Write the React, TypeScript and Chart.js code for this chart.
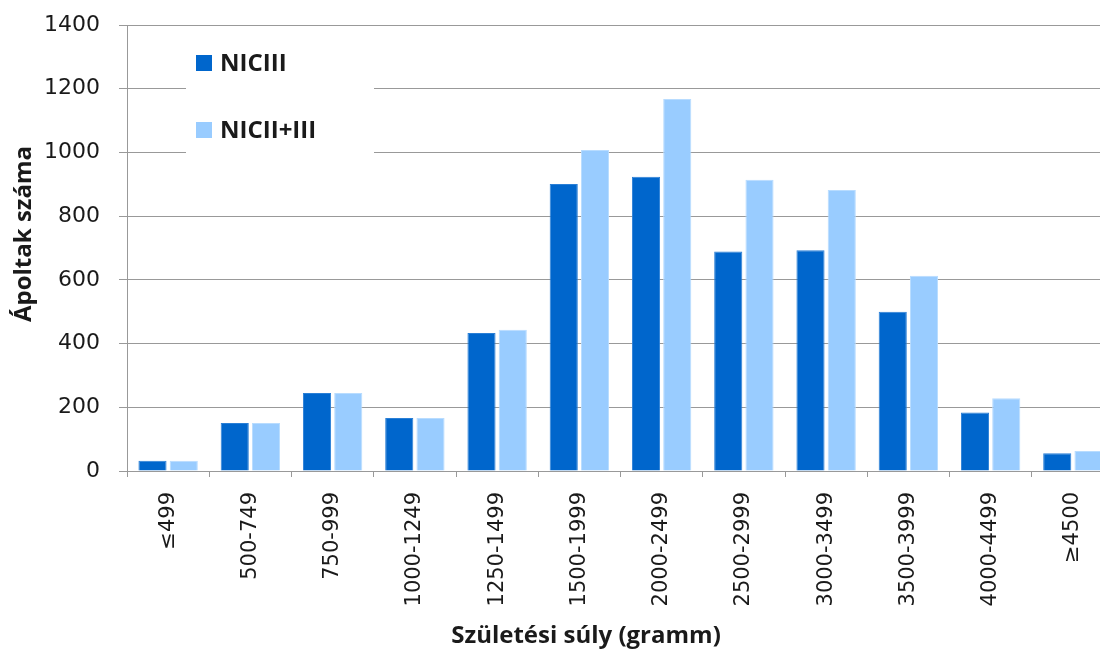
import React, { useEffect, useRef } from "react";
import { Chart, registerables } from "chart.js";

Chart.register(...registerables);

const categories = [
  "≤499", "500-749", "750-999", "1000-1249", "1250-1499", "1500-1999",
  "2000-2499", "2500-2999", "3000-3499", "3500-3999", "4000-4499", "≥4500",
];
const seriesNames = ["NICIII", "NICII+III"];
const nicIII = [32, 151, 245, 166, 433, 901, 924, 689, 693, 500, 184, 56];
const nicIIplusIII = [32, 151, 245, 166, 443, 1008, 1168, 914, 882, 613, 228, 63];
const yTitle = "Ápoltak száma";
const xTitle = "Születési súly (gramm)";
const yMax = 1400;
const yStep = 200;

const colors = ["#0066CC", "#99CCFF"];
const borders = ["#2a7fd6", "#b8dcff"];
const textColor = "#1a1a1a";

const insideLegend = {
  id: "insideLegend",
  afterDraw(chart: any) {
    const { ctx, chartArea } = chart;
    const x0 = chartArea.left + 69;
    const y0 = chartArea.top + 8;
    ctx.save();
    ctx.fillStyle = "#ffffff";
    ctx.fillRect(x0 - 10, y0, 188, 126);
    ctx.font = "bold 24px 'Open Sans'";
    ctx.textBaseline = "middle";
    ctx.textAlign = "left";
    chart.data.datasets.forEach((ds: any, i: number) => {
      const cy = y0 + 30 + i * 67;
      ctx.fillStyle = ds.backgroundColor;
      ctx.fillRect(x0, cy - 8, 16, 16);
      ctx.fillStyle = textColor;
      ctx.fillText(ds.label, x0 + 24, cy + 1);
    });
    ctx.restore();
  },
};

const axisTitles = {
  id: "axisTitles",
  afterDraw(chart: any) {
    const { ctx, chartArea } = chart;
    ctx.save();
    ctx.fillStyle = textColor;
    ctx.font = "bold 24px 'Open Sans'";
    ctx.textAlign = "center";
    ctx.textBaseline = "alphabetic";
    ctx.fillText(xTitle, chartArea.left + 459, chartArea.bottom + 172);
    ctx.translate(chartArea.left - 96, chartArea.top + 209);
    ctx.rotate(-Math.PI / 2);
    ctx.fillText(yTitle, 0, 0);
    ctx.restore();
  },
};

export default function App() {
  const ref = useRef<HTMLCanvasElement | null>(null);
  useEffect(() => {
    if (!ref.current) return;
    const chart = new Chart(ref.current, {
      type: "bar",
      data: {
        labels: categories,
        datasets: [
          {
            label: seriesNames[0],
            data: nicIII,
            backgroundColor: colors[0],
            borderColor: borders[0],
            borderWidth: 1,
          },
          {
            label: seriesNames[1],
            data: nicIIplusIII,
            backgroundColor: colors[1],
            borderColor: borders[1],
            borderWidth: 1,
          },
        ],
      },
      options: {
        responsive: false,
        animation: false,
        layout: { padding: { top: 25, right: 2, left: 0, bottom: 0 } },
        datasets: { bar: { categoryPercentage: 0.76, barPercentage: 0.9 } },
        plugins: {
          legend: { display: false },
          tooltip: { enabled: false },
        },
        scales: {
          x: {
            grid: {
              offset: true,
              drawOnChartArea: false,
              drawTicks: true,
              tickLength: 6,
              color: "#999999",
            },
            border: { color: "#999999" },
            ticks: {
              minRotation: 90,
              maxRotation: 90,
              autoSkip: false,
              padding: 15,
              color: textColor,
              font: { family: "'DejaVu Sans'", size: 21 },
            },
            afterFit(scale: any) {
              scale.height = 184;
            },
          },
          y: {
            min: 0,
            max: yMax,
            ticks: {
              stepSize: yStep,
              padding: 19,
              color: textColor,
              font: { family: "'DejaVu Sans'", size: 22 },
              callback: (v: any) => String(v),
            },
            grid: {
              color: "#999999",
              tickLength: 8,
            },
            border: { color: "#999999" },
            afterFit(scale: any) {
              scale.width = 127;
              scale.paddingTop = 0;
              scale.paddingBottom = 0;
            },
          },
        },
      },
      plugins: [insideLegend, axisTitles],
    });
    return () => chart.destroy();
  }, []);

  return (
    <div
      style={{
        position: "absolute",
        left: 0,
        top: 0,
        width: 1100,
        height: 655,
        overflow: "hidden",
        background: "#ffffff",
      }}
    >
      <canvas ref={ref} width={1116} height={655} style={{ display: "block" }} />
    </div>
  );
}
